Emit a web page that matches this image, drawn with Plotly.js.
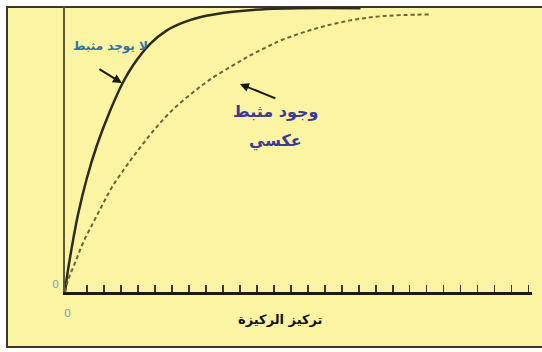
<!DOCTYPE html>
<html>
<head>
<meta charset="utf-8">
<script src="https://cdn.plot.ly/plotly-3.0.1.min.js"></script>
<style>
  html, body { margin: 0; padding: 0; background: #ffffff; }
  #chart { width: 542px; height: 352px; }
</style>
</head>
<body>
<div id="chart"></div>
<script>
// Substrate concentration (x) vs reaction rate (y)
var noInhibitorX = [0, 0.12, 0.41, 0.76, 1.29, 1.88, 2.65, 3.41, 4.0, 5.0, 6.0, 6.94, 7.94, 9.88, 11.9, 13.8, 17.4];
var noInhibitorY = [0, 5.5, 16.0, 27.0, 40.0, 51.5, 63.5, 73.5, 79.5, 87.0, 91.8, 94.5, 96.4, 98.3, 99.3, 99.6, 99.6];

var inhibitorX = [0, 0.18, 0.59, 1.06, 1.65, 2.24, 2.82, 3.65, 4.53, 5.41, 6.35, 7.53, 8.53, 9.88, 10.9, 11.9, 12.8, 14.8, 16.8, 18.7, 21.5];
var inhibitorY = [0, 4.2, 10.2, 17.2, 24.2, 31.0, 37.3, 44.5, 51.5, 58.0, 64.0, 70.0, 74.5, 79.5, 83.0, 86.0, 88.5, 92.5, 95.3, 96.8, 97.4];

var tickPositions = [1.3, 2.3, 3.3, 4.3, 5.3, 6.3, 7.3, 8.3, 9.3, 10.3, 11.3, 12.3, 13.3, 14.3,
                     15.3, 16.3, 17.3, 18.3, 19.3, 20.3, 21.3, 22.3, 23.3, 24.3, 25.3, 26.3, 27.3];

var labelNoInhibitor = 'لا يوجد مثبط';
var labelInhibitorLine1 = 'وجود مثبط';
var labelInhibitorLine2 = 'عكسي';
var xAxisTitle = 'تركيز الركيزة';
var zeroLabel = '0';

var traces = [
  {
    x: noInhibitorX, y: noInhibitorY, type: 'scatter', mode: 'lines',
    line: { color: '#2e2a1c', width: 2.5, shape: 'spline', smoothing: 1.0 },
    hoverinfo: 'skip', showlegend: false
  },
  {
    x: inhibitorX, y: inhibitorY, type: 'scatter', mode: 'lines',
    line: { color: '#6b6336', width: 2, shape: 'spline', smoothing: 1.0, dash: '4px,3px' },
    hoverinfo: 'skip', showlegend: false
  }
];

var arabicFont = '"DejaVu Sans", "Noto Sans", sans-serif';

function label(x, y, text, size, color, family) {
  return {
    xref: 'paper', yref: 'paper', x: x, y: y, xanchor: 'center', yanchor: 'middle',
    text: text, showarrow: false,
    font: { family: family || arabicFont, size: size, color: color }
  };
}

var layout = {
  width: 542, height: 352,
  margin: { l: 65, r: 10, t: 7, b: 60 },
  paper_bgcolor: '#ffffff',
  plot_bgcolor: 'rgba(0,0,0,0)',
  showlegend: false,
  xaxis: {
    range: [0, 27.5], showgrid: false, zeroline: false,
    showline: true, linecolor: '#1e1c12', linewidth: 3,
    ticks: 'inside', tickvals: tickPositions, ticktext: tickPositions.map(function(){return '';}),
    ticklen: 7, tickwidth: 1.5, tickcolor: '#3a3726',
    showticklabels: false, fixedrange: true
  },
  yaxis: {
    range: [0, 100], showgrid: false, zeroline: false,
    showline: true, linecolor: '#5e5634', linewidth: 2,
    ticks: '', showticklabels: false, fixedrange: true
  },
  shapes: [
    {
      type: 'rect', xref: 'paper', yref: 'paper', layer: 'below',
      x0: -0.1242, x1: 1.15, y0: -0.193, y1: 1.0,
      fillcolor: '#fbf4a2', line: { color: '#3a382c', width: 2 }
    }
  ],
  annotations: [
    label(0.0964, 0.862, '<b>' + labelNoInhibitor + '</b>', 12, '#2f74a8'),
    label(0.4518, 0.635, '<b>' + labelInhibitorLine1 + '</b>', 16, '#3c3a98'),
    label(0.4497, 0.530, '<b>' + labelInhibitorLine2 + '</b>', 16, '#3c3a98'),
    label(0.4625, -0.098, '<b>' + xAxisTitle + '</b>', 13, '#111111'),
    label(-0.0214, 0.0246, zeroLabel, 11, '#7a9cc4', 'DejaVu Sans, sans-serif'),
    label(0.0064, -0.0737, zeroLabel, 11, '#7a9cc4', 'DejaVu Sans, sans-serif'),
    {
      xref: 'x', yref: 'y', x: 3.35, y: 73.3, ax: -24, ay: -15,
      text: '', showarrow: true, arrowhead: 2, arrowsize: 0.9, arrowwidth: 2,
      arrowcolor: '#1a1812', standoff: 0
    },
    {
      xref: 'x', yref: 'y', x: 10.3, y: 73.0, ax: 37, ay: 15,
      text: '', showarrow: true, arrowhead: 2, arrowsize: 0.9, arrowwidth: 2,
      arrowcolor: '#1a1812', standoff: 0
    }
  ]
};

Plotly.newPlot('chart', traces, layout, { staticPlot: true, displayModeBar: false });
</script>
</body>
</html>
